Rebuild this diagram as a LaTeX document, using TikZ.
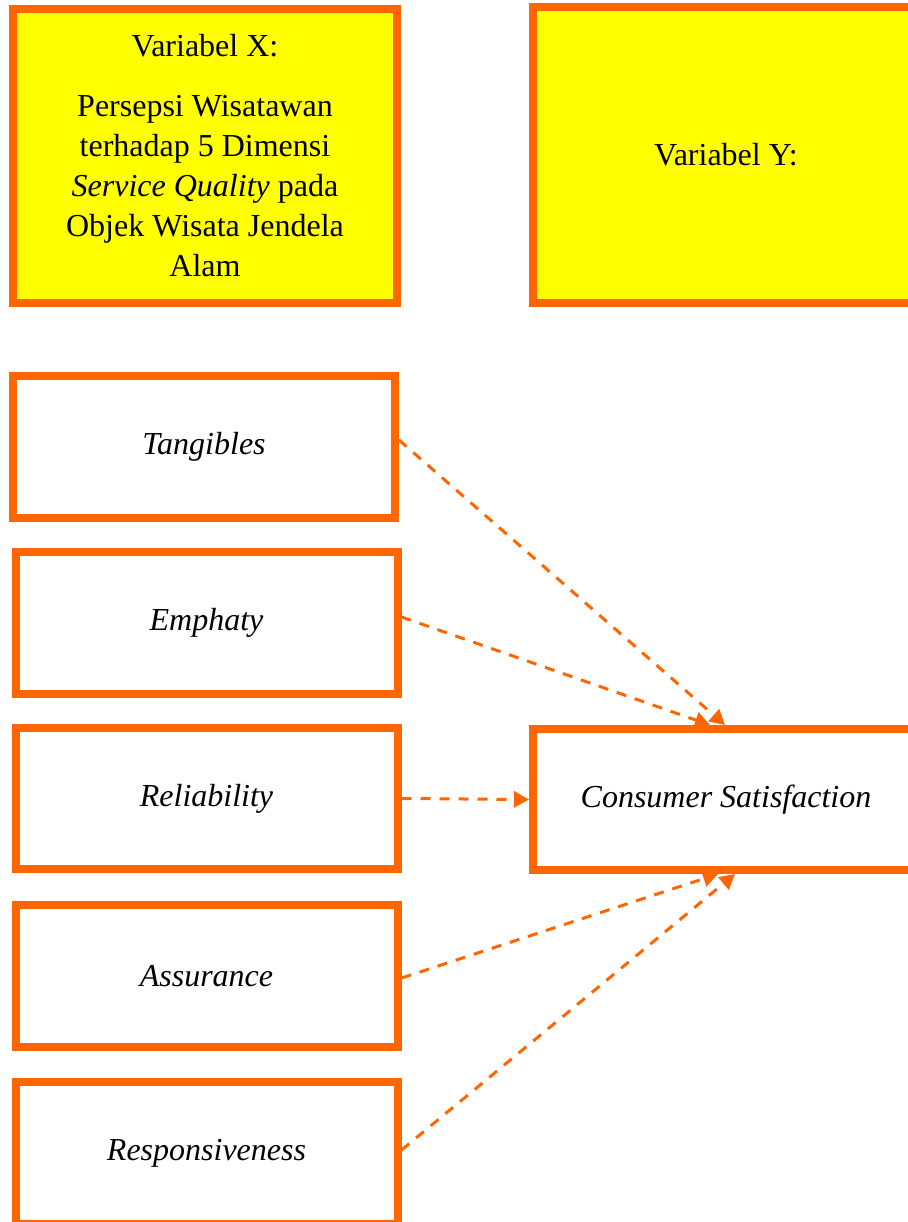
\documentclass[tikz,border=0pt]{standalone}
\usepackage{fontspec}
\setmainfont{Liberation Serif}
\usetikzlibrary{arrows.meta,calc}
\definecolor{orng}{HTML}{FF6600}
\definecolor{yel}{HTML}{FFFF00}
\tikzset{
  varbox/.style={draw=orng, fill=yel, line width=4pt, inner sep=0pt,
    align=center, font=\fontsize{16}{20}\selectfont},
  dimbox/.style={draw=orng, fill=white, line width=4pt, inner sep=0pt,
    minimum width=191pt, minimum height=71pt,
    font=\fontsize{16}{20}\selectfont\itshape},
  link/.style={orng, line width=1.5pt, dash pattern=on 5pt off 4.5pt,
    -{Triangle[length=7.5pt,width=8pt]}}
}
\begin{document}
\begin{tikzpicture}[x=0.5pt,y=-0.5pt]
\useasboundingbox (0,0) rectangle (908,1222);
\clip (0,0) rectangle (908,1222);

% variable boxes
\node[varbox, minimum width=192pt, minimum height=147pt] (vx) at (205,156)
  {Variabel X:\\[10pt]Persepsi Wisatawan\\terhadap 5 Dimensi\\
   \textit{Service Quality} pada\\Objek Wisata Jendela\\Alam};
\node[varbox, minimum width=193pt, minimum height=148pt] (vy) at (726,155)
  {Variabel Y:};

% service quality dimensions
\node[dimbox] (tang) at (204,447) {Tangibles};
\node[dimbox] (emph) at (206.5,623) {Emphaty};
\node[dimbox, minimum height=70.5pt] (reli) at (206.5,798.5) {Reliability};
\node[dimbox] (assu) at (206.5,976) {Assurance};
\node[dimbox] (resp) at (206.5,1153) {Responsiveness};

% dependent variable
\node[dimbox, minimum width=193pt, minimum height=70.5pt] (cs) at (726,799.5)
  {Consumer Satisfaction};

% influence links
\draw[link] ($(tang.east)+(0,-7)$) -- ($(cs.north west)+(196,0)$);
\draw[link] ($(emph.east)+(0,-6)$) -- ($(cs.north west)+(181,0)$);
\draw[link] (reli.east) -- (cs.west);
\draw[link] ($(assu.east)+(0,2)$) -- ($(cs.south west)+(189,0)$);
\draw[link] ($(resp.east)+(0,-3)$) -- ($(cs.south west)+(206,0)$);
\end{tikzpicture}
\end{document}
